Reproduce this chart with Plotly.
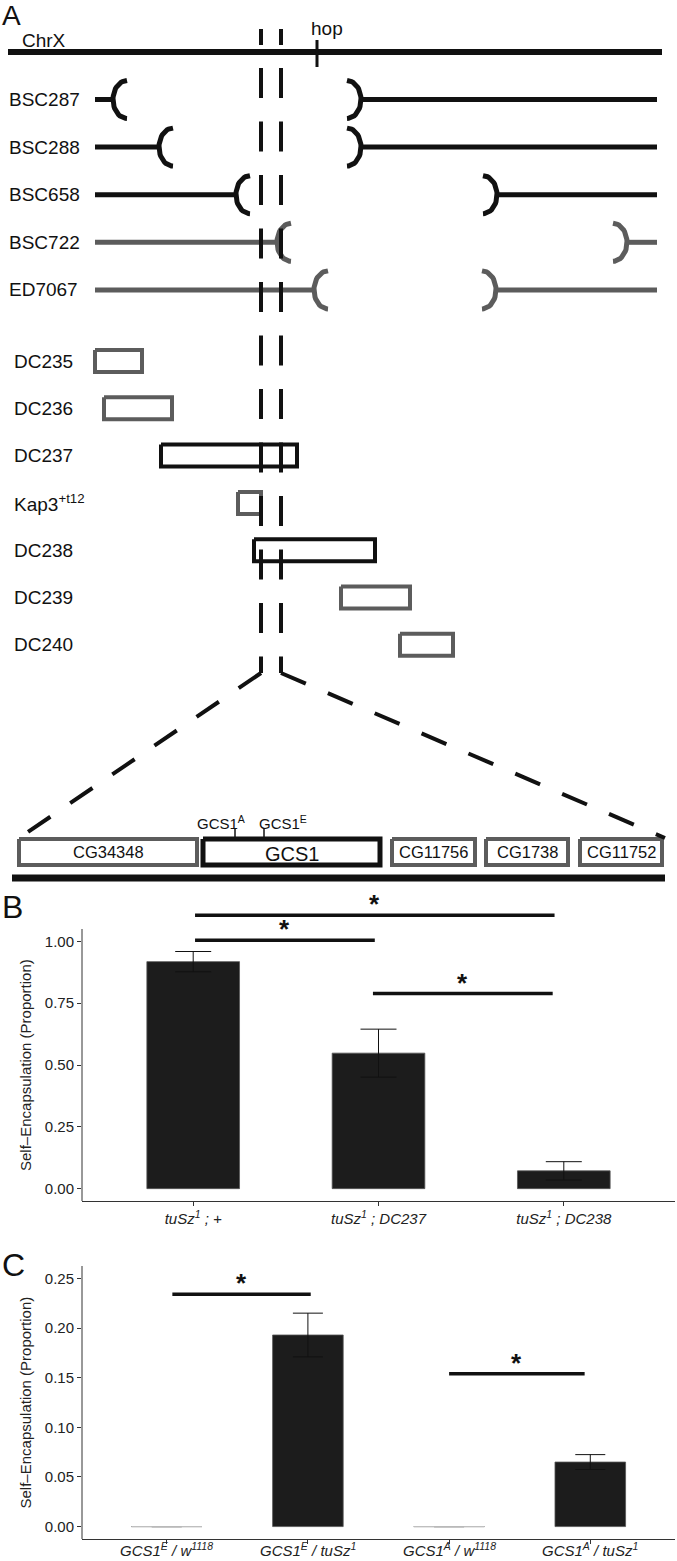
import numpy as np
import plotly.graph_objects as go

W, H = 677, 1561
FONT = "Liberation Sans, Arial, Helvetica, sans-serif"
BLACK = "#111111"
GRAY = "#5c5c5c"

# ---------------- panel A: map of the region (diagram units) ----------------
chrx_span = [8, 662]
hop_pos = 317
region = [261, 281]  # candidate interval, shown by the dashed lines

deficiencies = ["BSC287", "BSC288", "BSC658", "BSC722", "ED7067"]
def_left = [127, 173, 250, 291, 328]
def_right = [347, 347, 483, 613, 482]
def_gray = [0, 0, 0, 1, 1]

duplications = ["DC235", "DC236", "DC237", "Kap3<sup>+t12</sup>", "DC238", "DC239", "DC240"]
dup_start = [95, 104, 161, 238, 254, 341, 400]
dup_end = [142, 172, 297, 261, 375, 410, 453]
dup_gray = [1, 1, 0, 1, 0, 1, 1]

genes = ["CG34348", "GCS1", "CG11756", "CG1738", "CG11752"]
gene_start = [19, 203, 392, 486, 580]
gene_end = [197, 380, 475, 568, 662]
gene_gray = [1, 0, 1, 1, 1]

alleles = ["GCS1<sup>A</sup>", "GCS1<sup>E</sup>"]
allele_pos = [235, 264]

# ---------------- panel B ----------------
b_labels = ["<i>tuSz<sup>1</sup> ; +</i>", "<i>tuSz<sup>1</sup> ; DC237</i>", "<i>tuSz<sup>1</sup> ; DC238</i>"]
b_mean = [0.918, 0.548, 0.072]
b_se = [0.041, 0.097, 0.037]
b_sig_x0 = [1.01, 1.01, 1.97]
b_sig_x1 = [2.95, 1.98, 2.94]
b_sig_y = [1.106, 1.004, 0.789]

# ---------------- panel C ----------------
c_labels = ["<i>GCS1<sup>E</sup> / w<sup>1118</sup></i>", "<i>GCS1<sup>E</sup> / tuSz<sup>1</sup></i>",
            "<i>GCS1<sup>A</sup> / w<sup>1118</sup></i>", "<i>GCS1<sup>A</sup> / tuSz<sup>1</sup></i>"]
c_mean = [0.0, 0.193, 0.0, 0.065]
c_se = [0.0, 0.022, 0.0, 0.0075]
c_sig_x0 = [1.04, 3.0]
c_sig_x1 = [2.02, 3.96]
c_sig_y = [0.234, 0.154]


def py(p):
    return 1 - p / H


fig = go.Figure()
col = lambda g: GRAY if g else BLACK

# chromosome + hop
fig.add_trace(go.Scatter(x=chrx_span, y=[52, 52], mode="lines", line=dict(color=BLACK, width=6), xaxis="x", yaxis="y"))
fig.add_trace(go.Scatter(x=[hop_pos, hop_pos], y=[40, 67], mode="lines", line=dict(color=BLACK, width=3), xaxis="x", yaxis="y"))

# deficiencies with breakpoint brackets
t = np.linspace(0, np.pi, 30)
rx, ry = 14, 19
for i, (lb, rb, g) in enumerate(zip(def_left, def_right, def_gray)):
    yc = 99.5 + 47.6 * i
    xs = [95, lb - rx, None] + list(lb - rx * np.sin(t)) + [None] + list(rb + rx * np.sin(t)) + [None, rb + rx, 657]
    ys = [yc, yc, None] + list(yc - ry * np.cos(t)) + [None] + list(yc - ry * np.cos(t)) + [None, yc, yc]
    fig.add_trace(go.Scatter(x=xs, y=ys, mode="lines", line=dict(color=col(g), width=5), xaxis="x", yaxis="y"))

# duplication boxes
for i, (s, e, g) in enumerate(zip(dup_start, dup_end, dup_gray)):
    yc = 361 + 47.3 * i
    fig.add_trace(go.Scatter(x=[s, e, e, s, s], y=[yc - 11, yc - 11, yc + 11, yc + 11, yc - 11], mode="lines",
                             line=dict(color=col(g), width=4), xaxis="x", yaxis="y"))

# gene boxes
gy = 852
for s, e, g in zip(gene_start, gene_end, gene_gray):
    fig.add_trace(go.Scatter(x=[s, e, e, s, s], y=[gy - 13, gy - 13, gy + 13, gy + 13, gy - 13], mode="lines",
                             line=dict(color=col(g), width=4 if g else 5), xaxis="x", yaxis="y"))
for p in allele_pos:
    fig.add_trace(go.Scatter(x=[p, p], y=[828, gy - 15], mode="lines", line=dict(color=BLACK, width=1.5), xaxis="x", yaxis="y"))
fig.add_trace(go.Scatter(x=[12, 665], y=[878, 878], mode="lines", line=dict(color=BLACK, width=7), xaxis="x", yaxis="y"))

# dashed guides
vdash = "16px,23px" + ",30px,23.5px" * 14
for xr in region:
    fig.add_trace(go.Scatter(x=[xr, xr], y=[29, 673], mode="lines", line=dict(color=BLACK, width=4, dash=vdash), xaxis="x", yaxis="y"))
fig.add_trace(go.Scatter(x=[region[0], 28], y=[673, 832], mode="lines", line=dict(color=BLACK, width=4, dash="27px,24px"), xaxis="x", yaxis="y"))
fig.add_trace(go.Scatter(x=[region[1], 665], y=[673, 838], mode="lines", line=dict(color=BLACK, width=4, dash="27px,24px"), xaxis="x", yaxis="y"))

ann = []
A = dict(xref="x", yref="y", showarrow=False, yanchor="middle")
ann.append(dict(A, x=0, y=15, text="A", xanchor="left", font=dict(size=28, color=BLACK, family=FONT)))
ann.append(dict(A, x=20, y=40, text="ChrX", xanchor="left", font=dict(size=19, color=BLACK, family=FONT)))
ann.append(dict(A, x=hop_pos + 10, y=28, text="hop", xanchor="center", font=dict(size=19, color=BLACK, family=FONT)))
for i, n in enumerate(deficiencies):
    ann.append(dict(A, x=7, y=99.5 + 47.6 * i, text=n, xanchor="left", font=dict(size=19, color=BLACK, family=FONT)))
for i, n in enumerate(duplications):
    ann.append(dict(A, x=12, y=361 + 47.3 * i, text=n, xanchor="left", font=dict(size=19, color=BLACK, family=FONT)))
for s, e, n in zip(gene_start, gene_end, genes):
    ann.append(dict(A, x=(s + e) / 2, y=gy + (2 if n == "GCS1" else 0), text=n, xanchor="center",
                    font=dict(size=20 if n == "GCS1" else 16.5, color=BLACK, family=FONT)))
ann.append(dict(A, x=allele_pos[0] + 12, y=822, text=alleles[0], xanchor="right", font=dict(size=15, color=BLACK, family=FONT)))
ann.append(dict(A, x=allele_pos[1] - 7, y=822, text=alleles[1], xanchor="left", font=dict(size=15, color=BLACK, family=FONT)))

# ---------------- bar panels ----------------
BAR = "#1c1c1c"


def bar_panel(xa, ya, means, ses, cap, sx0, sx1, sy):
    n = len(means)
    xs = list(range(1, n + 1))
    fig.add_trace(go.Bar(x=xs, y=means, width=0.5, marker=dict(color=BAR, line=dict(color="#555555", width=0.8)),
                         error_y=dict(type="data", array=ses, color=BLACK, thickness=1, width=cap),
                         xaxis=xa, yaxis=ya))
    for x, m in zip(xs, means):
        if m == 0:
            fig.add_trace(go.Scatter(x=[x - 0.25, x + 0.25], y=[0, 0], mode="lines",
                                     line=dict(color="#c8c8c8", width=1), xaxis=xa, yaxis=ya))
    for a, b, y in zip(sx0, sx1, sy):
        fig.add_trace(go.Scatter(x=[a, b], y=[y, y], mode="lines", line=dict(color=BLACK, width=3.5), xaxis=xa, yaxis=ya))
        ann.append(dict(xref=xa, yref=ya, x=(a + b) / 2, y=y, text="<b>*</b>", showarrow=False, yanchor="bottom",
                        xanchor="center", yshift=-6, font=dict(size=26, color=BLACK, family=FONT)))


bar_panel("x2", "y2", b_mean, b_se, 18, b_sig_x0, b_sig_x1, b_sig_y)
bar_panel("x3", "y3", c_mean, c_se, 15, c_sig_x0, c_sig_x1, c_sig_y)

# geometry of the two bar panels (pixels)
b_bot, b_top, b_dom_top = 1201, 929, 893
c_bot, c_top, c_dom_top = 1539, 1266, 1252
b_lim = (-0.05, 1.05)
c_lim = (-0.0125, 0.2625)
b_rng = [b_lim[0], b_lim[0] + (b_lim[1] - b_lim[0]) * (b_bot - b_dom_top) / (b_bot - b_top)]
c_rng = [c_lim[0], c_lim[0] + (c_lim[1] - c_lim[0]) * (c_bot - c_dom_top) / (c_bot - c_top)]

shapes = [
    dict(type="line", xref="x2 domain", yref="y2", x0=0, x1=0, y0=b_lim[0], y1=b_lim[1], line=dict(color="#333333", width=1)),
    dict(type="line", xref="x3 domain", yref="y3", x0=0, x1=0, y0=c_lim[0], y1=c_lim[1], line=dict(color="#333333", width=1)),
]

# C category labels sit very close to the page bottom, so they are written as annotations
for i, lab in enumerate(c_labels):
    ann.append(dict(xref="x3", yref="paper", x=i + 1, y=0, text=lab, showarrow=False, yanchor="bottom",
                    xanchor="center", yshift=0, font=dict(size=15, color="#222222", family=FONT)))

ytitle = "Self–Encapsulation (Proportion)"
for bot, top in [(b_bot, b_top), (c_bot, c_top)]:
    ann.append(dict(xref="paper", yref="paper", x=25 / W, y=py((bot + top) / 2), text=ytitle, textangle=-90,
                    xanchor="center", yanchor="middle", showarrow=False,
                    font=dict(size=15, color="#222222", family=FONT)))
ann.append(dict(xref="paper", yref="paper", x=0, y=py(907), text="B", xanchor="left", yanchor="middle",
                showarrow=False, font=dict(size=32, color=BLACK, family=FONT)))
ann.append(dict(xref="paper", yref="paper", x=0, y=py(1265), text="C", xanchor="left", yanchor="middle",
                showarrow=False, font=dict(size=32, color=BLACK, family=FONT)))

hidden = dict(visible=False, showgrid=False, zeroline=False, automargin=False)
tickfont = dict(size=15, color="#222222", family=FONT)
bar_x = dict(showline=True, linecolor="#333333", linewidth=1, ticks="outside", ticklen=4, tickcolor="#333333",
             showgrid=False, zeroline=False, tickfont=tickfont, automargin=False)
bar_y = dict(showline=False, ticks="outside", ticklen=4, tickcolor="#333333", showgrid=False, zeroline=False,
             tickfont=tickfont, tickformat=".2f", automargin=False)

fig.update_layout(
    width=W, height=H, autosize=False, showlegend=False,
    margin=dict(l=0, r=0, t=0, b=0),
    paper_bgcolor="white", plot_bgcolor="white",
    font=dict(family=FONT),
    xaxis=dict(hidden, domain=[0, 1], range=[0, W]),
    yaxis=dict(hidden, domain=[py(890), 1], range=[890, 0]),
    xaxis2=dict(bar_x, domain=[82 / W, 675 / W], range=[0.4, 3.6], tickvals=[1, 2, 3], ticktext=b_labels, anchor="y2"),
    yaxis2=dict(bar_y, domain=[py(b_bot), py(b_dom_top)], range=b_rng, tickvals=[0, 0.25, 0.5, 0.75, 1.0], anchor="x2"),
    xaxis3=dict(bar_x, domain=[82 / W, 675 / W], range=[0.4, 4.6], tickvals=[1, 2, 3, 4], showticklabels=False, anchor="y3"),
    yaxis3=dict(bar_y, domain=[py(c_bot), py(c_dom_top)], range=c_rng, tickvals=[0, 0.05, 0.1, 0.15, 0.2, 0.25], anchor="x3"),
    annotations=ann, shapes=shapes,
)

# the page's default body margin would shift the 677x1561 figure off the window
fig.write_html("out.html", config={"displayModeBar": False}, post_script="document.body.style.margin='0';")
